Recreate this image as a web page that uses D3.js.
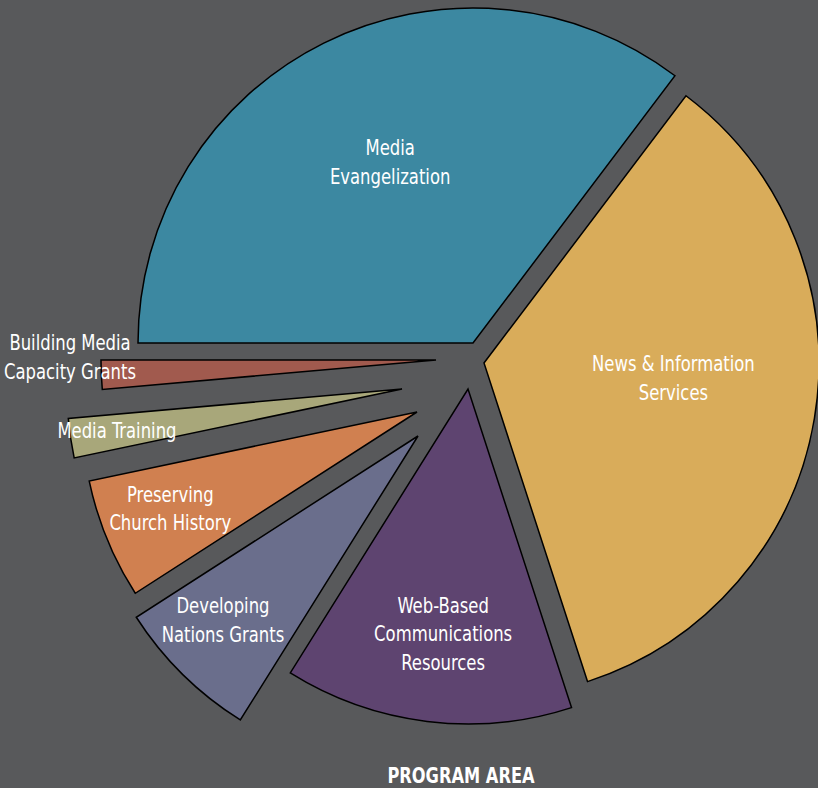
<!DOCTYPE html>
<html>
<head>
<meta charset="utf-8">
<script src="https://cdn.jsdelivr.net/npm/d3@7"></script>
<style>
  html, body { margin: 0; padding: 0; background: #58595b; }
  svg { display: block; }
  .label { fill: #fff; font-family: "Liberation Sans Narrow", "DejaVu Sans Condensed", sans-serif; font-size: 21px; }
  .title { fill: #fff; font-family: "Liberation Sans Narrow", "DejaVu Sans Condensed", sans-serif; font-size: 21px; font-weight: bold; }
</style>
</head>
<body>
<svg width="818" height="788"></svg>
<script>
// program areas, clockwise from 9 o'clock
var areas = ["Media Evangelization", "News & Information Services", "Web-Based Communications Resources",
             "Developing Nations Grants", "Preserving Church History", "Media Training", "Building Media Capacity Grants"];
var shares = [35.3, 34.7, 13.9, 7.0, 5.8, 1.9, 1.4];
var labelLines = [["Media", "Evangelization"], ["News & Information", "Services"],
                  ["Web-Based", "Communications", "Resources"], ["Developing", "Nations Grants"],
                  ["Preserving", "Church History"], ["Media Training"], ["Building Media", "Capacity Grants"]];
var colors = ["#3c88a1", "#d9ac5a", "#5e4470", "#6a6e8c", "#d08050", "#a8a77a", "#a15a4e"];

// layout
var w = 818, h = 788;
var cx = 470, cy = 370, radius = 335;
// how far each slice is pulled out of the pie [dx, dy]
var pull = [[3, -27], [14, -7], [-2, 19], [-52, 66], [-53, 42], [-68, 19], [-34, -10]];
// label placement relative to each slice tip: [angle in degrees, distance]
var labelAt = [[-24.6, 199], [94.5, 190], [185.8, 246], [226.7, 268], [248.6, 265], [261.8, 288], [270.5, 366]];
var lineH = 28.5;
var squeeze = 0.87;   // condensed look for the label font

var svg = d3.select("svg");

svg.append("rect")
    .attr("width", w)
    .attr("height", h)
    .attr("fill", "#58595b");

var pie = d3.pie()
    .sort(null)
    .startAngle(-Math.PI / 2)
    .endAngle(3 * Math.PI / 2);

var arc = d3.arc()
    .innerRadius(0)
    .outerRadius(radius);

var slices = pie(shares);

var g = svg.append("g")
    .attr("transform", "translate(" + cx + "," + cy + ")");

g.selectAll("path.slice")
  .data(slices)
  .enter().append("path")
    .attr("class", "slice")
    .attr("transform", function(d, i) { return "translate(" + pull[i][0] + "," + pull[i][1] + ")"; })
    .attr("d", arc)
    .attr("fill", function(d, i) { return colors[i]; })
    .attr("stroke", "#000")
    .attr("stroke-width", 1.5)
    .attr("stroke-linejoin", "miter");

var labels = g.selectAll("text.label")
  .data(slices)
  .enter().append("text")
    .attr("class", "label")
    .attr("text-anchor", "middle")
    .attr("transform", function(d, i) {
        var a = labelAt[i][0] * Math.PI / 180, r = labelAt[i][1];
        var x = pull[i][0] + r * Math.sin(a),
            y = pull[i][1] - r * Math.cos(a);
        return "translate(" + x + "," + y + ") scale(" + squeeze + ",1)";
    });

labels.each(function(d, i) {
    var lines = labelLines[i];
    var t = d3.select(this);
    lines.forEach(function(s, k) {
        t.append("tspan")
            .attr("x", 0)
            .attr("y", (k - (lines.length - 1) / 2) * lineH)
            .attr("dy", "0.36em")
            .text(s);
    });
});

svg.append("text")
    .attr("class", "title")
    .attr("transform", "translate(461,775) scale(0.86,1)")
    .attr("dy", "0.36em")
    .attr("text-anchor", "middle")
    .text("PROGRAM AREA");
</script>
</body>
</html>
